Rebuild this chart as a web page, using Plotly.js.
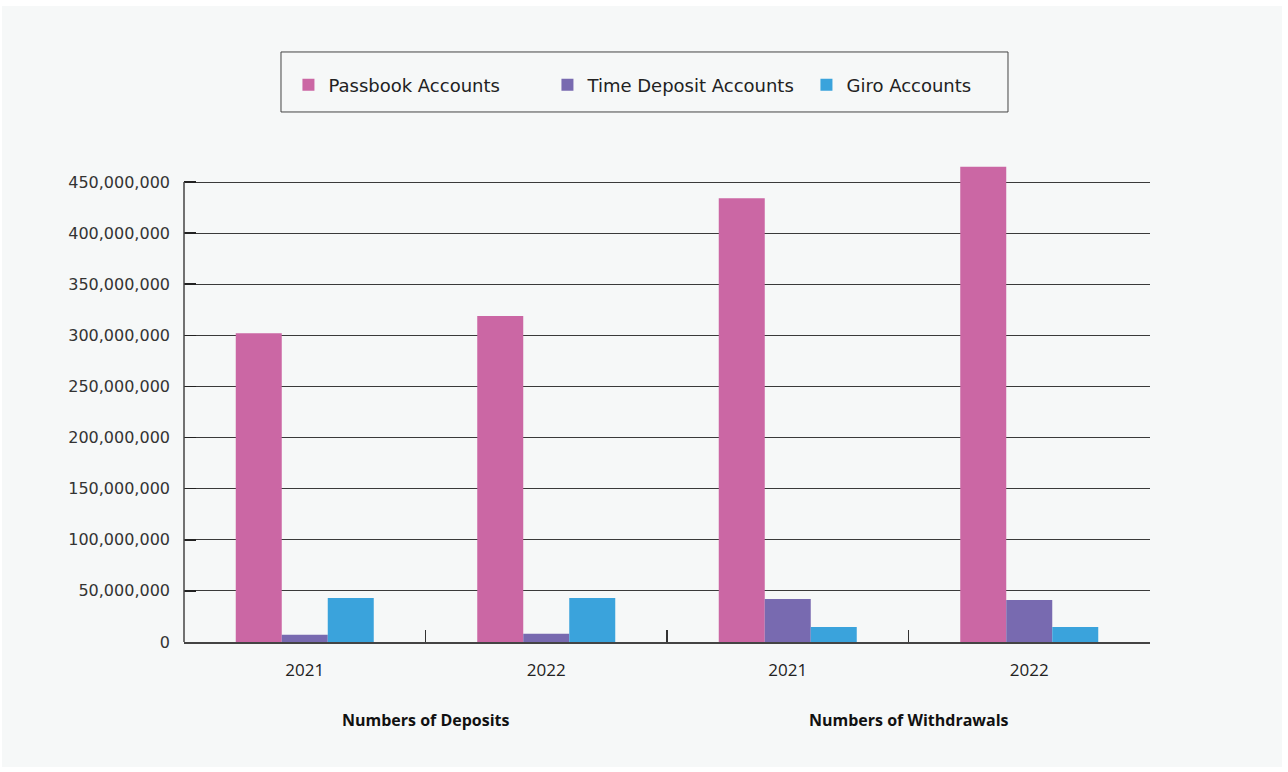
<!DOCTYPE html>
<html>
<head>
<meta charset="utf-8">
<script src="https://cdn.plot.ly/plotly-3.0.1.min.js"></script>
<style>
  html, body { margin: 0; padding: 0; background: #ffffff; }
  #chart { position: absolute; left: 2px; top: 6px; width: 1280px; height: 761px; }
</style>
</head>
<body>
<div id="chart"></div>
<script>
// ---- data ----
var categories = ["Deposits 2021", "Deposits 2022", "Withdrawals 2021", "Withdrawals 2022"];
var tickLabels = ["2021", "2022", "2021", "2022"];
var groupLabels = ["Numbers of Deposits", "Numbers of Withdrawals"];
var seriesNames = ["Passbook Accounts", "Time Deposit Accounts", "Giro Accounts"];
var passbook = [302000000, 319000000, 434000000, 465000000];
var timeDeposit = [7000000, 8000000, 42000000, 41000000];
var giro = [43000000, 43000000, 14700000, 14700000];
var colors = ["#cb67a4", "#786ab0", "#3aa3dc"];
var axisMax = 450000000;

var values = [passbook, timeDeposit, giro];
var traces = values.map(function (v, i) {
  return {
    type: "bar",
    name: seriesNames[i],
    x: categories,
    y: v,
    marker: { color: colors[i], line: { width: 0 } },
    hoverinfo: "x+y+name"
  };
});

var annotations = groupLabels.map(function (t, i) {
  return {
    text: "<b>" + t + "</b>",
    xref: "paper", yref: "paper",
    x: 0.25 + 0.5 * i, y: -0.1625,
    xanchor: "center", yanchor: "middle",
    showarrow: false,
    font: { family: "Open Sans, sans-serif", size: 16, color: "#111111" }
  };
});

var layout = {
  width: 1280, height: 761,
  paper_bgcolor: "#f6f8f8",
  plot_bgcolor: "rgba(0,0,0,0)",
  margin: { l: 182, r: 132, t: 156, b: 125, pad: 0 },
  barmode: "group",
  bargap: 0.4286,
  bargroupgap: 0,
  showlegend: true,
  legend: {
    orientation: "h",
    xref: "container", yref: "container",
    x: 0.5273, xanchor: "center",
    y: 0.8962, yanchor: "middle",
    entrywidth: 214,
    entrywidthmode: "pixels",
    bgcolor: "rgba(0,0,0,0)",
    borderwidth: 0,
    font: { family: "DejaVu Sans, sans-serif", size: 18, color: "#222222" },
    itemclick: false
  },
  shapes: [{
    type: "rect", xref: "paper", yref: "paper",
    x0: 0.1004, x1: 0.853, y0: 1.1042, y1: 1.2292,
    line: { color: "#444444", width: 1 },
    fillcolor: "rgba(0,0,0,0)",
    layer: "below"
  }, {
    type: "line", xref: "paper", yref: "y",
    x0: 0, x1: 0, y0: 0, y1: axisMax,
    line: { color: "#444444", width: 1.5 },
    layer: "above"
  }],
  annotations: annotations,
  xaxis: {
    type: "category",
    tickvals: categories,
    ticktext: tickLabels,
    tickson: "boundaries",
    ticks: "inside",
    ticklen: 12,
    tickwidth: 1.5,
    tickcolor: "#333333",
    showline: true,
    linecolor: "#444444",
    linewidth: 1.5,
    showgrid: false,
    ticklabelstandoff: 12,
    tickfont: { family: "Open Sans, sans-serif", size: 17, color: "#222222" }
  },
  yaxis: {
    range: [0, axisMax * 480 / 460],
    dtick: 50000000,
    tickformat: ",d",
    ticks: "inside",
    ticklen: 12,
    tickcolor: "#222222",
    tickwidth: 1.5,
    showline: false,
    showgrid: true,
    gridcolor: "#3a3a3a",
    gridwidth: 1,
    zeroline: false,
    ticklabelstandoff: 13,
    tickfont: { family: "DejaVu Sans, sans-serif", size: 16, color: "#333333" }
  },
  font: { family: "Open Sans, sans-serif" }
};

Plotly.newPlot("chart", traces, layout, { displayModeBar: false, staticPlot: true });
</script>
</body>
</html>
